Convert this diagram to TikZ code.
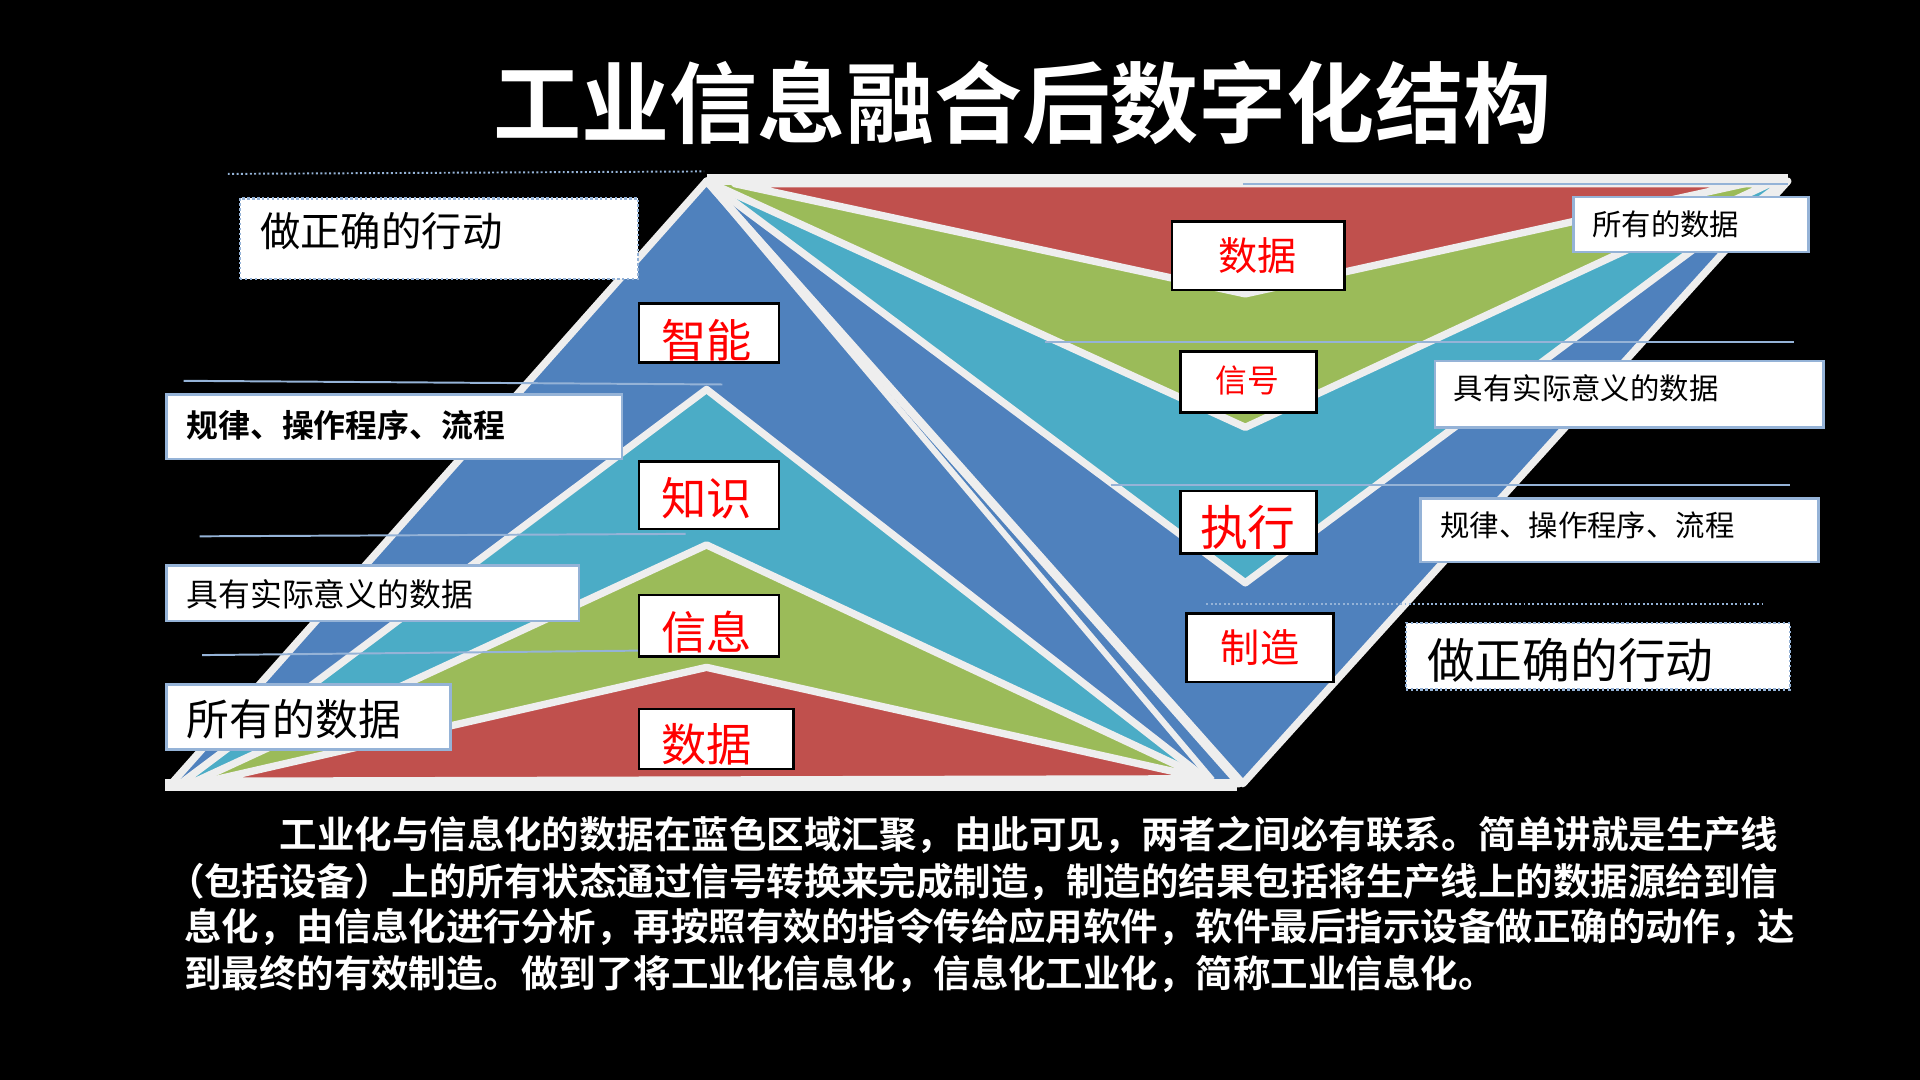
\documentclass[tikz,border=0pt]{standalone}
\usepackage{fontspec}
\setmainfont{Noto Sans CJK SC}
\newfontfamily\cjkb{Noto Sans CJK SC Bold}
\usetikzlibrary{fit}
\definecolor{cblue}{HTML}{4F81BD}
\definecolor{cteal}{HTML}{4BACC6}
\definecolor{cgreen}{HTML}{9BBB59}
\definecolor{cred}{HTML}{C0504D}
\definecolor{sep}{HTML}{EEEEEE}
\definecolor{lbl}{HTML}{95B3D7}
\tikzset{
 shp/.style={draw=sep,line width=3pt,line join=round},
 bx/.style={draw=black,line width=1pt,fill=white,inner sep=0pt},
 bxb/.style={draw=lbl,line width=1pt,fill=white,inner sep=0pt},
 bxd/.style={draw=lbl,densely dotted,line width=1pt,fill=white,inner sep=0pt},
 rl/.style={text=red,inner sep=0pt},
 tl/.style={text=black,inner sep=0pt,anchor=west},
 gl/.style={draw=lbl,line width=0.8pt},
 gd/.style={draw=lbl,line width=0.8pt,densely dotted},
 para/.style={text=white,inner sep=0pt,anchor=west,font=\cjkb\fontsize{15.3}{15.3}\selectfont}
}
\begin{document}
\begin{tikzpicture}[x=0.5pt,y=-0.5pt]
\fill[black] (0,0) rectangle (1568,882);
\useasboundingbox (0,0) rectangle (1568,882);
\node[text=white,font=\cjkb\fontsize{36}{36}\selectfont,inner sep=0] (title) at (835,84) {工业信息融合后数字化结构};
\draw[gd] (186,142) -- (575,140);
% right structure
\draw[shp,fill=cblue] (577,148) -- (1460,148) -- (1015,640) -- cycle;
\draw[shp,fill=cteal] (577,148) -- (1455,150) -- (1017,476) -- cycle;
\draw[shp,fill=cgreen] (577,148) -- (1445,150) -- (1017,349) -- cycle;
\draw[shp,fill=cred] (600,150) -- (1425,150) -- (1017,240) -- cycle;
% left structure
\draw[shp,fill=cblue] (577,148) -- (140,640) -- (1012,640) -- cycle;
\draw[shp,fill=cteal] (577,318) -- (150,638) -- (985,636) -- cycle;
\draw[shp,fill=cgreen] (577,445) -- (160,638) -- (985,636) -- cycle;
\draw[shp,fill=cred] (577,545) -- (170,638) -- (985,636) -- cycle;
\draw[sep,line width=5pt] (135,641) -- (1010,641);
\draw[sep,line width=4pt] (577,146) -- (1460,146);
\draw[sep,line width=2.5pt] (577,148) -- (1015,640);
\draw[sep,line width=2.5pt] (577,148) -- (990,637);
% guide lines
\draw[gl] (150,311) -- (590,314);
\draw[gl] (163,438) -- (560,436);
\draw[gl] (165,535) -- (555,531);
\draw[gl] (1015,150) -- (1460,150);
\draw[gl] (853,279) -- (1465,279);
\draw[gl] (907,396) -- (1462,396);
\draw[gd] (985,493) -- (1440,493);
% left label boxes
\node[bxd,fit={(196,162)(521,228)}] (l1) {};
\node[tl,font=\fontsize{16.5}{16.5}\selectfont] (l1t) at (212,189) {做正确的行动};
\node[bxb,fit={(136,322)(508,375)}] (l2) {};
\node[tl,font=\cjkb\fontsize{13}{13}\selectfont] (l2t) at (152,347) {规律、操作程序、流程};
\node[bxb,fit={(136,462)(473,507)}] (l3) {};
\node[tl,font=\fontsize{13}{13}\selectfont] (l3t) at (152,485) {具有实际意义的数据};
\node[bxb,fit={(136,559)(368,612)}] (l4) {};
\node[tl,font=\fontsize{17.5}{17.5}\selectfont] (l4t) at (152,587) {所有的数据};
% center red labels
\node[bx,fit={(522,248)(636,296)}] (c1) {};
\node[rl,font=\fontsize{18.5}{18.5}\selectfont] (c1t) at (577,278) {智能};
\node[bx,fit={(522,377)(636,432)}] (c2) {};
\node[rl,font=\fontsize{18.5}{18.5}\selectfont] (c2t) at (577,407) {知识};
\node[bx,fit={(522,486)(636,536)}] (c3) {};
\node[rl,font=\fontsize{18.5}{18.5}\selectfont] (c3t) at (577,516) {信息};
\node[bx,fit={(522,579)(648,628)}] (c4) {};
\node[rl,font=\fontsize{18.5}{18.5}\selectfont] (c4t) at (577,608) {数据};
% right red labels
\node[bx,fit={(957,181)(1098,237)}] (r1) {};
\node[rl,font=\fontsize{16}{16}\selectfont] (r1t) at (1027,209) {数据};
\node[bx,fit={(964,287)(1075,337)}] (r2) {};
\node[rl,font=\fontsize{13}{13}\selectfont] (r2t) at (1019,311) {信号};
\node[bx,fit={(964,401)(1075,452)}] (r3) {};
\node[rl,font=\fontsize{19.5}{19.5}\selectfont] (r3t) at (1019,431) {执行};
\node[bx,fit={(969,501)(1089,557)}] (r4) {};
\node[rl,font=\fontsize{16}{16}\selectfont] (r4t) at (1029,529) {制造};
% right labels
\node[bxb,fit={(1285,161)(1477,206)}] (q1) {};
\node[tl,font=\fontsize{12}{12}\selectfont] (q1t) at (1300,183) {所有的数据};
\node[bxb,fit={(1172,295)(1489,349)}] (q2) {};
\node[tl,font=\fontsize{12}{12}\selectfont] (q2t) at (1187,317) {具有实际意义的数据};
\node[bxb,fit={(1160,407)(1485,459)}] (q3) {};
\node[tl,font=\fontsize{12}{12}\selectfont] (q3t) at (1176,429) {规律、操作程序、流程};
\node[bxd,fit={(1148,509)(1462,563)}] (q4) {};
\node[tl,font=\fontsize{19.5}{19.5}\selectfont] (q4t) at (1165,539) {做正确的行动};
% paragraph
\node[para] (p1) at (228,682) {工业化与信息化的数据在蓝色区域汇聚，由此可见，两者之间必有联系。简单讲就是生产线};
\node[para] (p2) at (136,720) {（包括设备）上的所有状态通过信号转换来完成制造，制造的结果包括将生产线上的数据源给到信};
\node[para] (p3) at (150,757) {息化，由信息化进行分析，再按照有效的指令传给应用软件，软件最后指示设备做正确的动作，达};
\node[para] (p4) at (150,795) {到最终的有效制造。做到了将工业化信息化，信息化工业化，简称工业信息化。};
\end{tikzpicture}
\end{document}
